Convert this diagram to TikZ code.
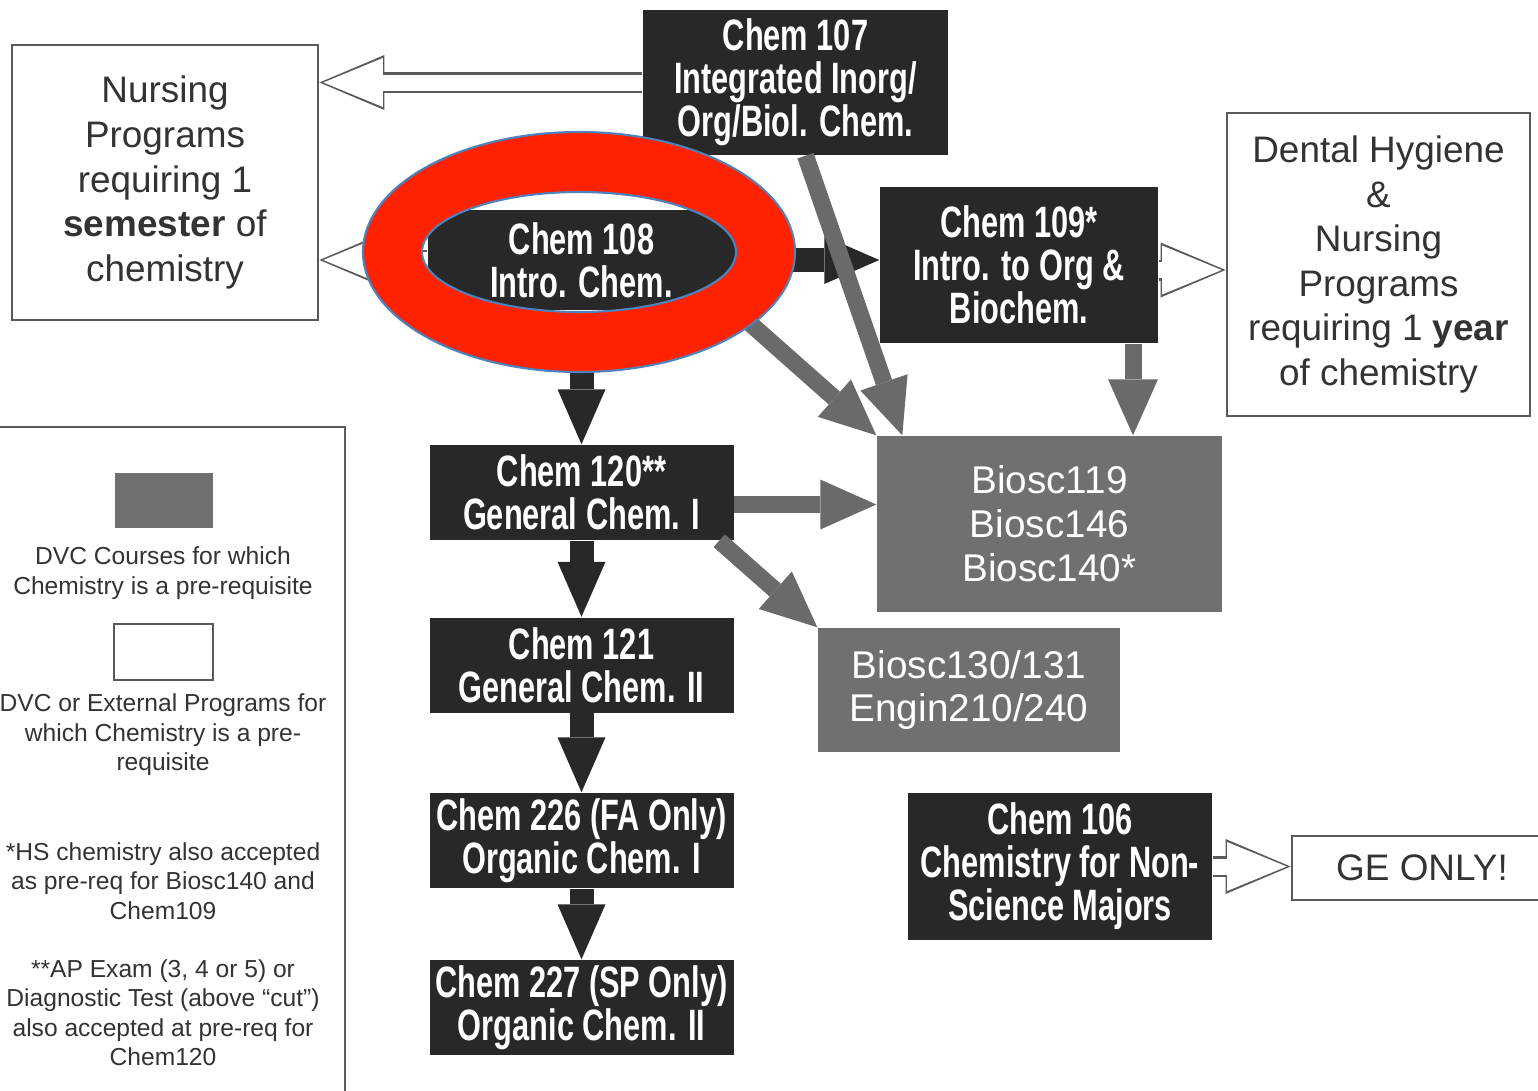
\documentclass[tikz,border=0pt]{standalone}
\usepackage{fontspec}
\setmainfont{Liberation Sans}
\newfontfamily\condfont[FakeStretch=0.70]{Liberation Sans}
\usepackage{tikz}
\usetikzlibrary{arrows.meta}
\definecolor{boxdark}{HTML}{282828}
\definecolor{boxgray}{HTML}{707070}
\definecolor{arrowgray}{HTML}{6A6A6A}
\definecolor{edgegray}{HTML}{5A5A5A}
\definecolor{textgray}{HTML}{333333}
\definecolor{ringred}{HTML}{FF2200}
\definecolor{ringblue}{HTML}{4F81BD}
\tikzstyle{course} = [rectangle, minimum width=3.04cm, minimum height=0.95cm, text centered, align=center, inner sep=0pt, fill=boxdark, text=white, font={\condfont\bfseries\fontsize{12.5}{12.2}\selectfont}]
\tikzstyle{dvc} = [rectangle, minimum width=3.02cm, minimum height=1.24cm, text centered, align=center, inner sep=0pt, fill=boxgray, text=white, font={\fontsize{11}{12.5}\selectfont}]
\tikzstyle{program} = [rectangle, text centered, align=center, inner sep=0pt, draw=edgegray, line width=0.8pt, fill=white, text=textgray, font={\fontsize{10.5}{12.7}\selectfont}]
\tikzstyle{legend} = [text centered, align=center, inner sep=0pt, text=textgray, font={\fontsize{7}{8.4}\selectfont}]
\tikzstyle{blkarrow} = [boxdark, line width=0.24cm, -{Triangle[width=0.48cm, length=0.55cm, line width=0pt]}]
\tikzstyle{grayarrow} = [arrowgray, line width=0.17cm, -{Triangle[width=0.50cm, length=0.56cm, line width=0pt]}]
\tikzstyle{hollowout} = [edgegray, line width=0.21cm, -{Triangle[width=0.55cm, length=0.65cm, line width=0pt]}]
\tikzstyle{hollowin} = [white, line width=0.16cm, shorten >=0.04cm, -{Triangle[width=0.49cm, length=0.595cm, line width=0pt]}]
\tikzstyle{ring} = [fill=ringred, draw=ringblue, line width=0.6pt, even odd rule]

\begin{document}
\begin{tikzpicture}
\useasboundingbox (0,0) rectangle (15.38,-10.91);
% Nodes
\node (nurse1) [program, minimum width=3.06cm, minimum height=2.75cm] at (1.65,-1.825) {Nursing\\Programs\\requiring 1\\\textbf{semester} of\\chemistry};
\node (c107) [course, minimum width=3.05cm, minimum height=1.45cm] at (7.955,-0.825) {Chem 107\\Integrated Inorg/\\Org/Biol. Chem.};
\node (c108) [course, minimum width=3.07cm, minimum height=1.0cm] at (5.815,-2.60) {Chem 108\\Intro. Chem.};
\node (c109) [course, minimum width=2.78cm, minimum height=1.56cm] at (10.19,-2.65) {Chem 109*\\Intro. to Org \&\\Biochem.};
\node (dental) [program, minimum width=3.03cm, minimum height=3.03cm] at (13.785,-2.645) {Dental Hygiene\\\&\\Nursing\\Programs\\requiring 1 \textbf{year}\\of chemistry};
\node (c120) [course] at (5.815,-4.925) {Chem 120**\\General Chem. I};
\node (c121) [course, below of=c120, node distance=1.725cm] {Chem 121\\General Chem. II};
\node (c226) [course, below of=c121, node distance=1.755cm] {Chem 226 (FA Only)\\Organic Chem. I};
\node (c227) [course, below of=c226, node distance=1.67cm] {Chem 227 (SP Only)\\Organic Chem. II};
\node (bio1) [dvc, minimum width=3.45cm, minimum height=1.76cm] at (10.495,-5.24) {Biosc119\\Biosc146\\Biosc140*};
\node (bio2) [dvc] at (9.69,-6.90) {Biosc130/131\\Engin210/240};
\node (c106) [course, minimum height=1.47cm] at (10.60,-8.665) {Chem 106\\Chemistry for Non-\\Science Majors};
\node (ge) [program, minimum width=2.60cm, minimum height=0.64cm] at (14.22,-8.68) {GE ONLY!};

% Legend
\draw [edgegray, line width=0.8pt] (0,-4.27) -- (3.45,-4.27) -- (3.45,-10.91);
\node (sw1) [dvc, minimum width=0.98cm, minimum height=0.55cm] at (1.64,-5.005) {};
\node (leg1) [legend] at (1.63,-5.73) {DVC Courses for which\\Chemistry is a pre-requisite};
\node (sw2) [program, minimum width=0.99cm, minimum height=0.56cm] at (1.635,-6.52) {};
\node (leg2) [legend] at (1.63,-7.35) {DVC or External Programs for\\which Chemistry is a pre-\\requisite};
\node (note1) [legend] at (1.63,-8.81) {*HS chemistry also accepted\\as pre-req for Biosc140 and\\Chem109};
\node (note2) [legend] at (1.63,-10.125) {**AP Exam (3, 4 or 5) or\\Diagnostic Test (above “cut”)\\also accepted at pre-req for\\Chem120};

% Arrows
\draw [blkarrow] (c108.south) -- (c120.north);
\draw [blkarrow] (c120.south) -- (c120.south |- c121.north);
\draw [blkarrow] (c121.south) -- (c226.north);
\draw [blkarrow] (c226.south) -- (c227.north);
\draw [blkarrow] (c108.east) -- (c108.east -| c109.west);

\draw [grayarrow] ([xshift=0.1cm]c107.south) -- ([xshift=0.26cm]bio1.north west);
\draw [grayarrow] (c108.south east) -- (bio1.north west);
\draw [grayarrow] ([xshift=1.14cm]c109.south) -- ([xshift=1.14cm]c109.south |- bio1.north);
\draw [grayarrow] ([yshift=-0.12cm]c120.east) -- ([yshift=-0.12cm]c120.east -| bio1.west);
\draw [grayarrow] ([xshift=-0.15cm]c120.south east) -- (bio2.north west);

\draw [hollowout] (c107.west) -- (c107.west -| nurse1.east);
\draw [hollowin] (c107.west) -- (c107.west -| nurse1.east);
\draw [hollowout] (c108.west) -- (c108.west -| nurse1.east);
\draw [hollowin] (c108.west) -- (c108.west -| nurse1.east);
\draw [hollowout] ([yshift=-0.05cm]c109.east) -- ([yshift=-0.05cm]c109.east -| dental.west);
\draw [hollowin] ([yshift=-0.05cm]c109.east) -- ([yshift=-0.05cm]c109.east -| dental.west);
\draw [hollowout] (c106.east) -- (c106.east -| ge.west);
\draw [hollowin] (c106.east) -- (c106.east -| ge.west);

% Highlight ring
\draw [ring] (5.79,-2.52) ellipse [x radius=2.16cm, y radius=1.20cm] (5.79,-2.52) ellipse [x radius=1.57cm, y radius=0.60cm];
\end{tikzpicture}
\end{document}
